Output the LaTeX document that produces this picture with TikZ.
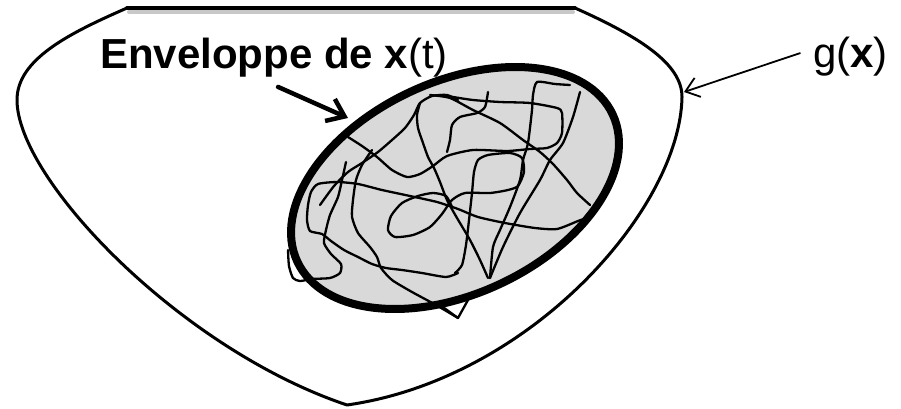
\documentclass[tikz,border=0pt]{standalone}
\usepackage{fontspec}
\setmainfont{Liberation Sans}
\usepackage{xcolor}
\usepackage{tikz}
\usetikzlibrary{arrows.meta}
\definecolor{Fill}{HTML}{D9D9D9}
\definecolor{Shade}{HTML}{C8C8C8}

\begin{document}
\begin{tikzpicture}[x=1pt,y=-1pt,line join=round,line cap=round,
lbl/.style={inner sep=0pt,anchor=base west,font=\fontsize{42}{48}\selectfont},
border/.style={line width=3pt},
scribble/.style={line width=2.3pt},
bigarrow/.style={-{Straight Barb[length=16pt,width=24pt]},line width=4.5pt},
smallarrow/.style={-{Straight Barb[length=13pt,width=20pt]},line width=1.8pt}]
\useasboundingbox (0,0) rectangle (901,409);
% outer region g(x)
\draw[line width=4pt,Shade] (129,12) -- (573,12);
\draw[line width=4pt] (127,8) -- (575,8);
\draw[border] (127,8) .. controls (70,33) and (17,59) .. (17,100)
  .. controls (17,179) and (180,349) .. (347,405)
  .. controls (530,379) and (680,209) .. (682,97)
  .. controls (682,64) and (640,37) .. (575,8);
% envelope
\fill[Fill,rotate around={25:(455,188)}] (455,188) ellipse [x radius=174,y radius=106];
\begin{scope}[scribble]
\draw plot[smooth,tension=0.4] coordinates {(592,216) (578,221) (557,229) (535,228) (505,223) (478,217) (458,209) (437,202) (410,196) (382,190) (358,184) (337,182) (318,184) (311,192) (308,205) (307,220) (310,231) (322,234) (331,241) (344,250) (358,257) (372,264) (386,268) (402,270) (422,273) (446,277) (458,273)};
\draw plot[smooth,tension=0.4] coordinates {(346,162) (342,180) (338,197) (330,215) (326,230) (324,243) (331,254) (341,264) (340,273) (330,278) (312,279) (300,281) (293,278) (289,266) (288,250)};
\draw plot[smooth,tension=0.4] coordinates {(372,150) (362,165) (356,180) (353,200) (352,217) (358,233) (370,247) (377,257) (381,268) (392,280) (412,292) (436,305) (458,318)};
\draw (440,305) -- (458,318) -- (468,300);
\draw plot[smooth,tension=0.4] coordinates {(452,207) (446,196) (433,193) (418,196) (402,203) (391,216) (388,230) (395,237) (413,235) (430,227) (442,214) (452,200) (465,193) (490,193) (508,190) (518,186) (524,172) (522,158) (510,153) (488,155) (478,160) (474,172) (472,193) (469,220) (466,245) (462,265) (455,273)};
\draw plot[smooth,tension=0.4] coordinates {(348,137) (362,146) (377,157) (392,170) (407,177) (420,174) (433,166) (447,156) (473,150) (507,151) (530,149) (547,148) (557,143) (562,133) (562,113) (557,108) (530,103) (500,102) (473,100) (453,97) (440,95)};
\draw plot[smooth,tension=0.4] coordinates {(430,95) (450,98) (473,110) (500,123) (523,140) (540,152) (553,164) (567,180) (577,193) (590,205)};
\draw plot[smooth,tension=0.4] coordinates {(570,85) (555,84) (537,82) (533,95) (532,110) (528,143) (523,160) (520,180) (510,207) (500,230) (493,247) (490,278)};
\draw plot[smooth,tension=0.4] coordinates {(580,92) (573,117) (563,143) (550,160) (540,180) (520,213) (503,247) (490,278)};
\draw plot[smooth,tension=0.4] coordinates {(320,205) (334,186) (348,172) (362,163) (378,152) (392,140) (405,128) (414,115) (420,103) (432,96) (447,95) (458,100)};
\draw plot[smooth,tension=0.4] coordinates {(488,92) (485,107) (477,113) (460,117) (452,125) (450,140) (447,152)};
\draw plot[smooth,tension=0.4] coordinates {(420,103) (417,115) (418,128) (423,143) (428,157) (434,168) (440,182) (447,200) (457,218) (470,240) (480,260) (488,278)};
\end{scope}
\draw[line width=8pt,rotate around={25:(455,188)}] (455,188) ellipse [x radius=174,y radius=106];
% labels
\node[lbl] (lbl) at (100,69) {\bfseries Enveloppe de x\mdseries(t)};
\node[lbl] (gx) at (813,68) {g(\textbf{x})};
\coordinate (envtip) at (348,118);
\coordinate (gtip) at (684,92);
\draw[bigarrow] ([shift={(4,9)}]lbl.south) -- (envtip);
\draw[smallarrow] ([shift={(-13,-4)}]gx.west) -- (gtip);
\end{tikzpicture}
\end{document}
